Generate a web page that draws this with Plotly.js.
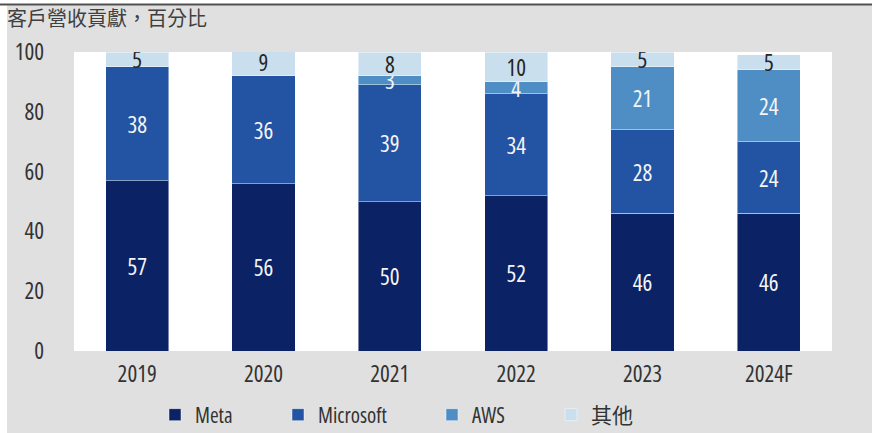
<!DOCTYPE html>
<html>
<head>
<meta charset="utf-8">
<script src="https://cdn.plot.ly/plotly-3.0.1.min.js"></script>
<style>
html,body{margin:0;padding:0;background:#fff;}
#chart{width:878px;height:433px;}
#chart text{font-stretch:75%;}
</style>
</head>
<body>
<div id="chart"></div>
<script>
const years = ['2019', '2020', '2021', '2022', '2023', '2024F'];
const meta = [57, 56, 50, 52, 46, 46];
const microsoft = [38, 36, 39, 34, 28, 24];
const aws = [0, 0, 3, 4, 21, 24];
const others = [5, 9, 8, 10, 5, 5];
const yTicks = [0, 20, 40, 60, 80, 100];

const FONT = '"Open Sans", "Noto Sans", sans-serif';
const CJK = '"Noto Sans CJK TC", sans-serif';
const LEGFONT = '"Open Sans", "Noto Sans CJK TC", sans-serif';

function lbl(arr) { return arr.map(v => v ? String(v) : ''); }

function series(name, vals, color, txtColor, legendId) {
  return {
    type: 'bar', name: name, x: years, y: vals,
    text: lbl(vals), textposition: 'inside', insidetextanchor: 'middle',
    constraintext: 'none', textangle: 0,
    textfont: {family: FONT, size: 23, color: txtColor},
    marker: {color: color, line: {color: 'rgba(255,255,255,0.45)', width: 1}},
    width: 0.5, hoverinfo: 'skip', legend: legendId
  };
}

const data = [
  series('Meta', meta, '#0b2265', '#f4f4f4', 'legend'),
  series('Microsoft', microsoft, '#2353a3', '#f4f4f4', 'legend2'),
  series('AWS', aws, '#4f8ec4', '#f4f4f4', 'legend3'),
  series('其他', others, '#c9dfee', '#262626', 'legend4')
];

const px = x => (x - 74) / 758;
const py = y => (351 - y) / 299;

function leg(xPix) {
  return {orientation: 'h', xref: 'container', yref: 'container',
          x: xPix / 878, xanchor: 'left', y: (433 - 415) / 433, yanchor: 'middle',
          bgcolor: 'rgba(0,0,0,0)',
          font: {family: LEGFONT, size: 21, color: '#333333'}};
}

const layout = {
  width: 878, height: 433,
  margin: {l: 74, r: 46, t: 52, b: 82, pad: 0},
  paper_bgcolor: '#e0e0e0', plot_bgcolor: '#ffffff',
  barmode: 'stack', bargap: 0.5,
  showlegend: true,
  title: {text: '客戶營收貢獻，百分比', x: 7 / 878, xanchor: 'left', xref: 'container',
          y: 1 - 12 / 433, yanchor: 'top', yref: 'container',
          font: {family: CJK, size: 20, color: '#404040'}},
  xaxis: {type: 'category', showgrid: false, zeroline: false, showline: false,
          ticks: '', ticklabelstandoff: 7,
          tickfont: {family: FONT, size: 23, color: '#333333'}},
  yaxis: {range: [0, 100], tickvals: yTicks, showgrid: false, zeroline: false, showline: false,
          ticks: '', ticklabelstandoff: 29,
          tickfont: {family: FONT, size: 23, color: '#333333'}},
  legend: leg(155),
  legend2: leg(278),
  legend3: leg(432),
  legend4: leg(551),
  shapes: [
    {type: 'rect', xref: 'paper', yref: 'paper', x0: px(-5), x1: px(7), y0: py(440), y1: py(-5), fillcolor: '#ffffff', line: {width: 0}, layer: 'below'},
    {type: 'rect', xref: 'paper', yref: 'paper', x0: px(872), x1: px(885), y0: py(440), y1: py(-5), fillcolor: '#ffffff', line: {width: 0}, layer: 'below'},
    {type: 'rect', xref: 'paper', yref: 'paper', x0: px(-5), x1: px(885), y0: py(4), y1: py(-5), fillcolor: '#ffffff', line: {width: 0}, layer: 'below'},
    {type: 'line', xref: 'paper', yref: 'paper', x0: px(0), x1: px(872), y0: py(4.5), y1: py(4.5), line: {color: '#505050', width: 2}}
  ]
};

Plotly.newPlot('chart', data, layout, {displayModeBar: false, staticPlot: true});
</script>
</body>
</html>
